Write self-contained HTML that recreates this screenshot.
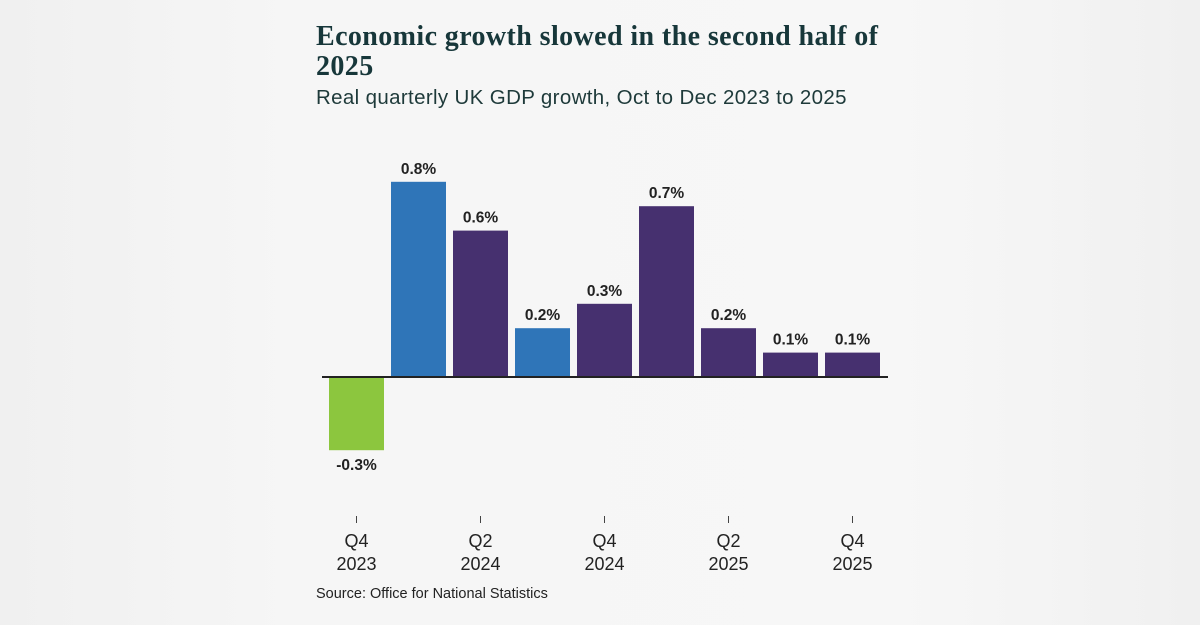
<!DOCTYPE html>
<html><head><meta charset="utf-8"><style>
body{margin:0;background:#f3f3f3;}
#w{position:relative;width:1200px;height:625px;background:linear-gradient(90deg,#f0f0f0 0,#f6f6f6 25%,#f7f7f7 75%,#f0f0f0 100%);overflow:hidden;font-family:"Liberation Sans",sans-serif;}
#t{position:absolute;left:316px;top:22px;font-family:"Liberation Serif",serif;font-weight:bold;font-size:28px;letter-spacing:0.4px;line-height:30px;color:#17373a;width:640px;}
#s{position:absolute;left:316px;top:86px;font-size:20.5px;letter-spacing:0.35px;color:#1e3a3a;}
#src{position:absolute;left:316px;top:586px;font-size:14.5px;color:#222;}
</style></head><body>
<div id="w">
<div id="t">Economic growth slowed in the second half of<br>2025</div>
<div id="s">Real quarterly UK GDP growth, Oct to Dec 2023 to 2025</div>
<svg id="c" width="1200" height="625" style="position:absolute;left:0;top:0"></svg>
<div id="src">Source: Office for National Statistics</div>
</div>
<script>
const categories=["Q4 2023","Q1 2024","Q2 2024","Q3 2024","Q4 2024","Q1 2025","Q2 2025","Q3 2025","Q4 2025"];
const values=[-0.3,0.8,0.6,0.2,0.3,0.7,0.2,0.1,0.1];
const labels=["-0.3%","0.8%","0.6%","0.2%","0.3%","0.7%","0.2%","0.1%","0.1%"];
const colorKeys=["green","blue","purple","blue","purple","purple","purple","purple","purple"];
const tickCats=[["Q4","2023",0],["Q2","2024",2],["Q4","2024",4],["Q2","2025",6],["Q4","2025",8]];
const palette={green:"#8cc63e",blue:"#2f75b8",purple:"#46306f"};
const ns="http://www.w3.org/2000/svg",svg=document.getElementById('c');
const x0=329,step=62,bw=55,base=377,k=244;
const xs=i=>x0+i*step, ys=v=>base-v*k;
function mk(t,a){const e=document.createElementNS(ns,t);for(const n in a)e.setAttribute(n,a[n]);svg.appendChild(e);return e;}
values.forEach((v,i)=>{
 const r=mk('rect',{x:xs(i),y:Math.min(ys(v),base),width:bw,height:Math.abs(ys(v)-base),fill:palette[colorKeys[i]]});
 
 
 const t=mk('text',{x:xs(i)+bw/2,y:v>=0?ys(v)-8:ys(v)+20,'text-anchor':'middle','font-size':15.5,'font-weight':'bold',fill:'#222','font-family':'Liberation Sans, sans-serif'});
 t.textContent=labels[i];
 
 
});
const ax=mk('line',{x1:322,x2:888,y1:base,y2:base,stroke:'#222','stroke-width':2});


tickCats.forEach(([a,b,i])=>{
 const cx=xs(i)+bw/2;
 const tk=mk('line',{x1:cx,x2:cx,y1:516,y2:523,stroke:'#444','stroke-width':1});
 
 
 [a,b].forEach((s,j)=>{const t=mk('text',{x:cx,y:547+j*23,'text-anchor':'middle','font-size':18,fill:'#222','font-family':'Liberation Sans, sans-serif'});t.textContent=s;
 
 });
});
</script>
</body></html>
